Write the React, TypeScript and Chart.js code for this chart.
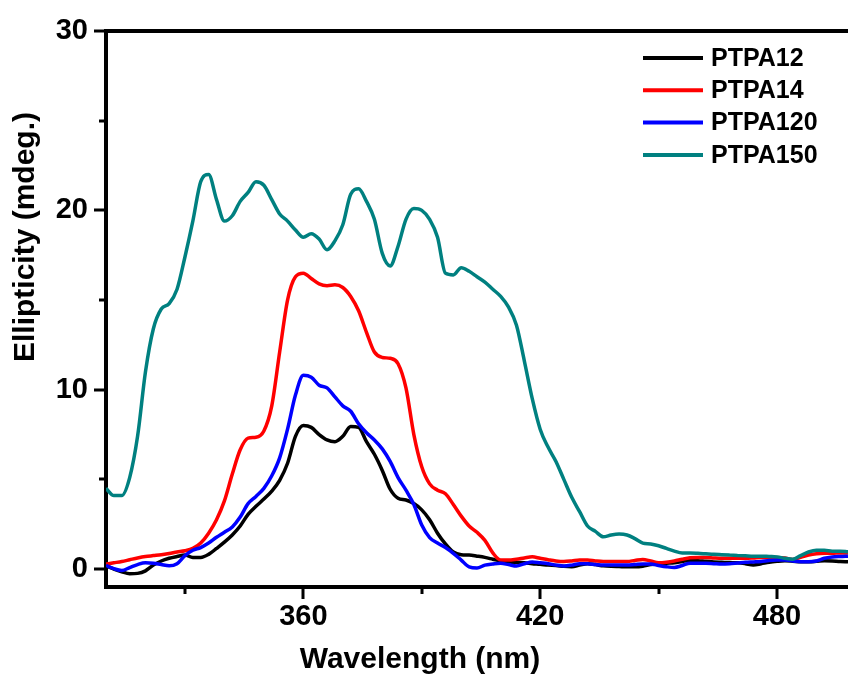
import React, { useEffect, useRef } from "react";
import { Chart, registerables } from "chart.js";

Chart.register(...registerables);

const wavelengths = [
  310, 312, 314, 316, 318, 320, 322, 324, 326, 328,
  330, 332, 334, 336, 338, 340, 342, 344, 346, 348,
  350, 352, 354, 356, 358, 360, 362, 364, 366, 368,
  370, 372, 374, 376, 378, 380, 382, 384, 386, 388,
  390, 392, 394, 396, 398, 400, 402, 404, 406, 408,
  410, 412, 414, 416, 418, 420, 422, 424, 426, 428,
  430, 432, 434, 436, 438, 440, 442, 444, 446, 448,
  450, 452, 454, 456, 458, 460, 462, 464, 466, 468,
  470, 472, 474, 476, 478, 480, 482, 484, 486, 488,
  490, 492, 494, 496, 498,
];

const ptpa12 = [
  0.18, 0.0, -0.15, -0.26, -0.24, -0.1, 0.22, 0.45, 0.6, 0.7,
  0.78, 0.65, 0.65, 0.82, 1.15, 1.5, 1.9, 2.4, 3.05, 3.5,
  3.9, 4.35, 4.95, 5.9, 7.4, 8.0, 7.9, 7.5, 7.2, 7.1,
  7.4, 7.95, 7.9, 7.1, 6.4, 5.5, 4.45, 3.95, 3.85, 3.65,
  3.3, 2.75, 2.0, 1.4, 0.95, 0.8, 0.78, 0.72, 0.65, 0.55,
  0.45, 0.4, 0.37, 0.35, 0.3, 0.27, 0.22, 0.2, 0.15, 0.13,
  0.22, 0.3, 0.25, 0.18, 0.15, 0.14, 0.13, 0.13, 0.16, 0.25,
  0.3, 0.33, 0.35, 0.42, 0.48, 0.47, 0.43, 0.4, 0.38, 0.36,
  0.35, 0.3, 0.23, 0.3, 0.38, 0.43, 0.46, 0.44, 0.41, 0.41,
  0.43, 0.46, 0.45, 0.42, 0.41,
];

const ptpa14 = [
  0.28, 0.35, 0.42, 0.52, 0.62, 0.7, 0.75, 0.8, 0.87, 0.95,
  1.02, 1.15, 1.45, 2.0, 2.75, 3.8, 5.3, 6.65, 7.3, 7.35,
  7.7, 9.1, 12.1, 15.0, 16.3, 16.5, 16.2, 15.9, 15.8, 15.85,
  15.7, 15.2, 14.4, 13.2, 12.1, 11.8, 11.75, 11.45, 10.1, 7.5,
  5.7, 4.75, 4.4, 4.2, 3.6, 2.95, 2.4, 2.05, 1.6, 0.9,
  0.5, 0.5, 0.55, 0.62, 0.68, 0.6, 0.52, 0.45, 0.42, 0.45,
  0.5, 0.5, 0.45, 0.42, 0.42, 0.42, 0.42, 0.48, 0.54, 0.45,
  0.35, 0.38, 0.45, 0.55, 0.63, 0.65, 0.65, 0.62, 0.6, 0.6,
  0.6, 0.6, 0.62, 0.65, 0.65, 0.65, 0.62, 0.54, 0.65, 0.78,
  0.86, 0.88, 0.88, 0.9, 0.9,
];

const ptpa120 = [
  0.2, 0.02, -0.08, 0.08, 0.25, 0.35, 0.33, 0.25, 0.18, 0.3,
  0.75, 1.05, 1.2, 1.45, 1.77, 2.05, 2.35, 2.9, 3.65, 4.05,
  4.5, 5.2, 6.2, 7.8, 9.7, 10.8, 10.7, 10.25, 10.1, 9.6,
  9.1, 8.8, 8.1, 7.6, 7.2, 6.7, 6.0, 5.1, 4.4, 3.6,
  2.45, 1.75, 1.45, 1.2, 0.88, 0.5, 0.12, 0.06, 0.22, 0.28,
  0.32, 0.25, 0.17, 0.3, 0.4, 0.35, 0.3, 0.22, 0.17, 0.22,
  0.3, 0.3, 0.25, 0.22, 0.22, 0.22, 0.22, 0.25, 0.28, 0.28,
  0.2, 0.13, 0.09, 0.2, 0.33, 0.33, 0.32, 0.3, 0.28, 0.3,
  0.34, 0.38, 0.4, 0.42, 0.48, 0.5, 0.5, 0.45, 0.41, 0.41,
  0.45, 0.6, 0.67, 0.7, 0.72,
];

const ptpa150 = [
  4.5, 4.1, 4.1, 5.1, 7.4, 11.0, 13.4, 14.5, 14.8, 15.6,
  17.4, 19.4, 21.6, 22.0, 20.6, 19.4, 19.7, 20.5, 21.0, 21.6,
  21.4, 20.6, 19.8, 19.4, 18.9, 18.5, 18.7, 18.4, 17.8, 18.3,
  19.2, 20.9, 21.2, 20.5, 19.5, 17.6, 16.9, 18.0, 19.5, 20.1,
  20.0, 19.5, 18.5, 16.5, 16.4, 16.8, 16.6, 16.3, 16.0, 15.6,
  15.2, 14.6, 13.6, 11.6, 9.5, 7.8, 6.8, 6.0, 5.0, 4.0,
  3.2, 2.4, 2.1, 1.8, 1.9, 1.95, 1.9, 1.7, 1.45, 1.4,
  1.3, 1.15, 1.0, 0.9, 0.9, 0.88, 0.85, 0.82, 0.8, 0.78,
  0.76, 0.74, 0.72, 0.72, 0.7, 0.68, 0.6, 0.55, 0.75, 0.95,
  1.05, 1.05, 1.0, 1.0, 0.97,
];

const seriesLabels = ["PTPA12", "PTPA14", "PTPA120", "PTPA150"];
const seriesColors = ["#000000", "#ff0000", "#0000ff", "#008080"];
const seriesValues = [ptpa12, ptpa14, ptpa120, ptpa150];

const xTickValues = [330, 360, 390, 420, 450, 480];
const xLabelled = [360, 420, 480];
const yTickValues = [0, 5, 10, 15, 20, 25, 30];
const yLabelled = [0, 10, 20, 30];

const xTitle = "Wavelength (nm)";
const yTitle = "Ellipticity (mdeg.)";

const FONT = '"Liberation Sans", Arial, Helvetica, sans-serif';

const decorPlugin = {
  id: "decor",
  afterDraw(chart: any) {
    const { ctx, chartArea: ca, scales } = chart;
    const xs = scales.x;
    const ys = scales.y;
    ctx.save();
    ctx.strokeStyle = "#000";
    ctx.lineCap = "butt";
    // top frame line
    ctx.lineWidth = 4;
    ctx.beginPath();
    ctx.moveTo(ca.left - 2, ca.top);
    ctx.lineTo(ca.right, ca.top);
    ctx.stroke();
    // tick marks
    ctx.lineWidth = 3;
    ctx.beginPath();
    xs.ticks.forEach((t: any) => {
      const px = Math.round(xs.getPixelForValue(t.value));
      const len = xLabelled.includes(t.value) ? 10 : 5;
      ctx.moveTo(px, ca.bottom + 2);
      ctx.lineTo(px, ca.bottom + 2 + len);
    });
    ys.ticks.forEach((t: any) => {
      const py = Math.round(ys.getPixelForValue(t.value));
      const len = yLabelled.includes(t.value) ? 10 : 5;
      ctx.moveTo(ca.left - 2, py);
      ctx.lineTo(ca.left - 2 - len, py);
    });
    ctx.stroke();

    // axis titles
    ctx.fillStyle = "#000";
    ctx.font = `bold 30px ${FONT}`;
    ctx.textAlign = "center";
    ctx.textBaseline = "alphabetic";
    ctx.fillText(xTitle, 420, 668);
    ctx.save();
    ctx.translate(34, 237);
    ctx.rotate(-Math.PI / 2);
    ctx.font = `bold 30px ${FONT}`;
    ctx.fillText(yTitle, 0, 0);
    ctx.restore();

    // legend
    ctx.font = `bold 25px ${FONT}`;
    ctx.textAlign = "left";
    ctx.textBaseline = "middle";
    chart.data.datasets.forEach((ds: any, i: number) => {
      const y = 58 + i * 32.3;
      ctx.strokeStyle = ds.borderColor;
      ctx.lineWidth = 4;
      ctx.beginPath();
      ctx.moveTo(643, y);
      ctx.lineTo(703, y);
      ctx.stroke();
      ctx.fillStyle = "#000";
      ctx.fillText(ds.label, 711, y + 1);
    });
    ctx.restore();
  },
};

export default function App() {
  const ref = useRef<HTMLCanvasElement | null>(null);

  useEffect(() => {
    document.body.style.margin = "0";
    const canvas = ref.current;
    if (!canvas) return;
    const datasets = seriesValues.map((vals, i) => ({
      label: seriesLabels[i],
      data: wavelengths.map((w, j) => ({ x: w, y: vals[j] })),
      borderColor: seriesColors[i],
      backgroundColor: seriesColors[i],
      borderWidth: 3.5,
      pointRadius: 0,
      cubicInterpolationMode: "monotone" as const,
      fill: false,
      order: seriesValues.length - i,
    }));
    const chart = new Chart(canvas, {
      type: "line",
      data: { datasets },
      options: {
        animation: false,
        responsive: false,
        maintainAspectRatio: false,
        layout: { padding: { top: 31, right: 0, left: 0, bottom: 0 } },
        plugins: {
          legend: { display: false },
          tooltip: { enabled: false },
        },
        scales: {
          x: {
            type: "linear",
            min: 310,
            max: 498,
            afterBuildTicks: (s: any) => {
              s.ticks = xTickValues.map((v) => ({ value: v }));
            },
            afterFit: (s: any) => {
              s.height = 92;
              s.paddingLeft = 0;
              s.paddingRight = 0;
            },
            grid: { display: false, drawTicks: false },
            border: { display: true, color: "#000", width: 4 },
            ticks: {
              autoSkip: false,
              maxRotation: 0,
              padding: 13,
              color: "#000",
              font: { family: FONT, size: 29, weight: "bold" },
              callback: (v: any) => (xLabelled.includes(Number(v)) ? String(v) : ""),
            },
          },
          y: {
            type: "linear",
            min: -1,
            max: 30,
            afterBuildTicks: (s: any) => {
              s.ticks = yTickValues.map((v) => ({ value: v }));
            },
            afterFit: (s: any) => {
              s.width = 106;
              s.paddingTop = 0;
              s.paddingBottom = 0;
            },
            grid: { display: false, drawTicks: false },
            border: { display: true, color: "#000", width: 4 },
            ticks: {
              autoSkip: false,
              padding: 18,
              color: "#000",
              font: { family: FONT, size: 29, weight: "bold" },
              callback: (v: any) => (yLabelled.includes(Number(v)) ? String(v) : ""),
            },
          },
        },
      },
      plugins: [decorPlugin],
    });
    return () => chart.destroy();
  }, []);

  return (
    <div style={{ width: 848, height: 679, background: "#fff" }}>
      <canvas ref={ref} width={848} height={679} style={{ display: "block" }} />
    </div>
  );
}
